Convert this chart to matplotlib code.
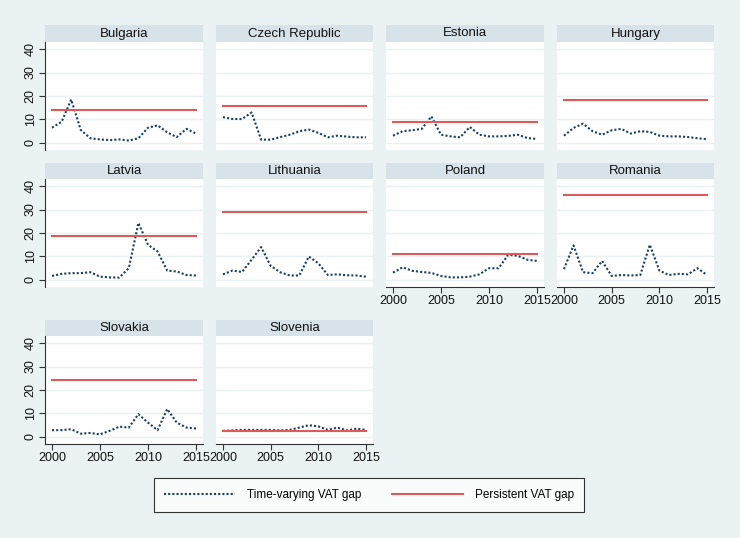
import matplotlib.pyplot as plt
from matplotlib.lines import Line2D

plt.rcParams['font.family'] = ['Liberation Sans', 'DejaVu Sans']

years = list(range(2000, 2016))
countries = ['Bulgaria', 'Czech Republic', 'Estonia', 'Hungary',
             'Latvia', 'Lithuania', 'Poland', 'Romania',
             'Slovakia', 'Slovenia']

# time-varying VAT gap, 2000-2015
bulgaria = [6.5, 9.0, 18.5, 5.5, 2.0, 1.5, 1.2, 1.5, 1.0, 2.0, 6.5, 7.5, 4.5, 2.5, 6.0, 4.0]
czech = [11.0, 10.2, 10.2, 13.0, 1.4, 1.4, 2.5, 3.5, 5.0, 5.7, 4.3, 2.4, 3.1, 2.7, 2.4, 2.4]
estonia = [3.1, 5.0, 5.4, 6.0, 11.3, 3.5, 2.8, 2.4, 6.8, 3.5, 2.8, 2.8, 3.0, 3.5, 2.1, 1.7]
hungary = [3.1, 6.4, 8.2, 5.0, 3.5, 5.4, 6.0, 4.0, 5.0, 4.7, 3.1, 2.8, 2.8, 2.5, 2.0, 1.6]
latvia = [1.7, 2.6, 2.9, 2.9, 3.3, 1.4, 1.1, 1.0, 5.0, 24.3, 15.0, 12.1, 4.0, 3.6, 2.1, 1.9]
lithuania = [2.4, 4.0, 3.4, 8.6, 14.0, 6.0, 3.3, 1.9, 1.9, 10.0, 7.1, 2.1, 2.4, 2.0, 1.9, 1.4]
poland = [3.1, 5.4, 3.9, 3.4, 3.0, 1.7, 1.1, 1.1, 1.4, 2.4, 5.0, 5.0, 10.7, 10.3, 8.6, 8.1]
romania = [4.6, 14.7, 3.3, 2.9, 8.1, 1.7, 2.1, 1.9, 2.1, 15.0, 4.0, 2.1, 2.6, 2.4, 5.0, 2.1]
slovakia = [2.9, 2.9, 3.3, 1.4, 1.7, 1.1, 2.6, 4.4, 4.0, 9.7, 6.1, 2.9, 11.9, 6.1, 4.0, 3.6]
slovenia = [2.6, 2.8, 3.0, 3.0, 3.0, 3.0, 2.8, 3.0, 4.0, 5.0, 4.5, 3.0, 4.0, 2.8, 3.5, 3.0]
time_varying = [bulgaria, czech, estonia, hungary, latvia,
                lithuania, poland, romania, slovakia, slovenia]

# persistent VAT gap per country
persistent = [14.0, 15.6, 8.9, 18.2, 18.6, 28.9, 11.0, 36.0, 24.3, 2.6]

W, H = 740, 538
bg = '#eaf2f3'
strip = '#d7e3e9'
navy = '#1a3f5c'
red = '#dd5a5a'


def box(x0, y0, x1, y1):
    return [x0 / W, 1 - y1 / H, (x1 - x0) / W, (y1 - y0) / H]


cols = [(45, 203), (216, 373), (386, 544), (557, 714)]
rows = [(25, 42, 150), (163, 179, 287), (320, 336, 444)]

fig = plt.figure(figsize=(7.4, 5.38), dpi=100, facecolor=bg)

for i, name in enumerate(countries):
    r, c = divmod(i, 4)
    x0, x1 = cols[c]
    top, mid, bot = rows[r]

    st = fig.add_axes(box(x0, top, x1, mid))
    st.set_facecolor(strip)
    st.set_xticks([])
    st.set_yticks([])
    for s in st.spines.values():
        s.set_visible(False)
    st.text(0.5, 0.5, name, ha='center', va='center', fontsize=9.5,
            color='#111111', transform=st.transAxes)

    ax = fig.add_axes(box(x0, mid, x1, bot))
    ax.set_facecolor('white')
    for y in [0, 10, 20, 30, 40]:
        ax.axhline(y, color=bg, lw=1, zorder=0)
    ax.plot(years, time_varying[i], color=navy, lw=1.5, ls=(0, (1, 1)), zorder=2)
    ax.plot([years[0], years[-1]], [persistent[i]] * 2, color=red, lw=1.5, zorder=3)
    ax.set_xlim(1999.27, 2015.73)
    ax.set_ylim(-3, 43)

    for s in ['top', 'right']:
        ax.spines[s].set_visible(False)

    if c == 0:
        ax.set_yticks([0, 10, 20, 30, 40])
        ax.tick_params(axis='y', direction='out', length=4, width=0.8,
                       labelsize=9, colors='#333333', labelcolor='#111111',
                       pad=2)
        for lab in ax.get_yticklabels():
            lab.set_rotation(90)
            lab.set_va('center')
        ax.spines['left'].set_color('#333333')
        ax.spines['left'].set_linewidth(0.8)
    else:
        ax.set_yticks([])
        ax.spines['left'].set_visible(False)

    if r == 2 or (r == 1 and c >= 2):
        ax.set_xticks([2000, 2005, 2010, 2015])
        ax.tick_params(axis='x', direction='out', length=4, width=0.8,
                       labelsize=9, colors='#333333', labelcolor='#111111',
                       pad=2)
        ax.spines['bottom'].set_color('#333333')
        ax.spines['bottom'].set_linewidth(0.8)
    else:
        ax.set_xticks([])
        ax.spines['bottom'].set_visible(False)

handles = [Line2D([], [], color=navy, lw=1.5, ls=(0, (1, 1))),
           Line2D([], [], color=red, lw=1.5)]
labels = ['Time-varying VAT gap', 'Persistent VAT gap']
leg = fig.legend(handles, labels, loc='center',
                 bbox_to_anchor=(369 / W, 1 - 495 / H),
                 ncol=2, fontsize=8.5, handlelength=6.0,
                 handletextpad=1.0, columnspacing=2.6, borderpad=0.9,
                 frameon=True, fancybox=False, borderaxespad=0)
leg.get_frame().set_edgecolor('black')
leg.get_frame().set_linewidth(0.8)

fig.savefig('out.png', dpi=100, facecolor=bg)
